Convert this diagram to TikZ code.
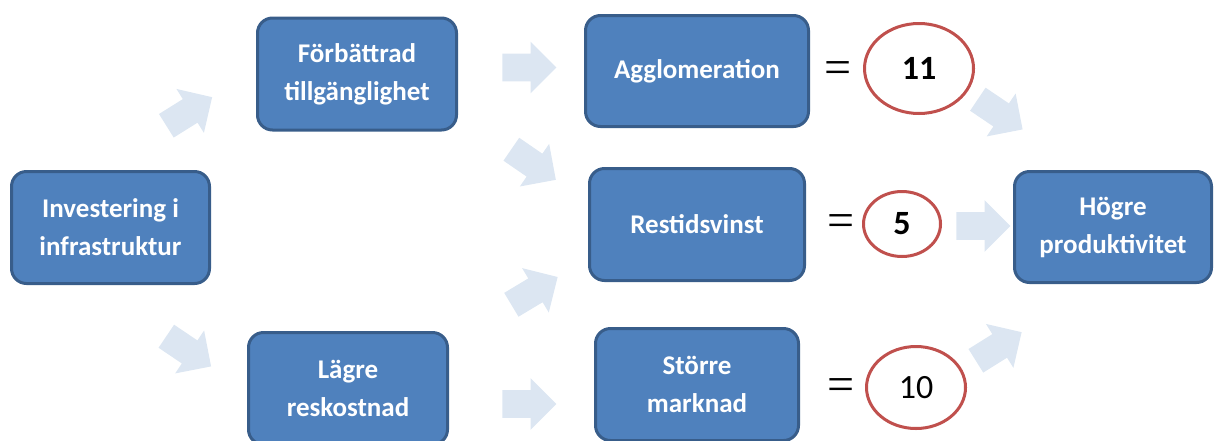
\documentclass[tikz,border=0pt]{standalone}
\usepackage{fontspec}
\setmainfont{Carlito}
\newfontfamily\eqfont{Liberation Serif}
\usepackage{tikz}
\usetikzlibrary{positioning, shapes.geometric, shapes.arrows}
\definecolor{boxblue}{HTML}{4F81BD}
\definecolor{boxline}{HTML}{385D8A}
\definecolor{arrowblue}{HTML}{DCE6F2}
\definecolor{ringred}{HTML}{C0504D}
\begin{document}
\begin{tikzpicture}[x=0.5pt, y=-0.5pt, box/.style={draw=boxline, line width=1.5pt, rounded corners=7.5pt, fill=boxblue, text=white, align=center, minimum width=99.5pt, minimum height=56pt, inner sep=2pt, font=\bfseries\fontsize{13.5}{19}\selectfont}, ring/.style={ellipse, draw=ringred, line width=1.5pt, fill=white, inner sep=0pt, font=\fontsize{17}{17}\selectfont}, eq/.style={inner sep=0pt, font=\eqfont\fontsize{24}{24}\selectfont}, blockarrow/.style={single arrow, anchor=tail, fill=arrowblue, draw=none, inner xsep=0pt, inner ysep=6.75pt, minimum height=27pt, single arrow head extend=6pt}]
      \useasboundingbox (0,0) rectangle (1214,440);

      \node[box, minimum width=99pt] (inv) at (110.5,227.5) {Investering i\\infrastruktur};
      \node[box] (forb) at (357,74) {Förbättrad\\tillgänglighet};
      \node[box] (lagre) at (348,388.5) {Lägre\\reskostnad};
      \node[box, minimum width=111.5pt, minimum height=55.5pt] (aggl) at (697,71) {Agglomeration};
      \node[box, minimum width=107.5pt] (rest) at (697,224.5) {Restidsvinst};
      \node[box, minimum width=101.5pt] (storre) at (697,384.5) {Större\\marknad};
      \node[box, minimum width=98.5pt, minimum height=55.5pt] (hogre) at (1113,227) {Högre\\produktivitet};

      \node[eq] (eq1) at (838,73) {=}; \node[eq] (eq2) at (841,226) {=};
      \node[eq] (eq3) at (841,390) {=};
      \node[ring, minimum width=54.5pt, minimum height=45pt] (r11) at (919,68.5) {\textbf{11}};
      \node[ring, minimum width=38.5pt, minimum height=32.5pt] (r5) at (902,224) {\textbf{5}};
      \node[ring, minimum width=49.5pt, minimum height=41pt] (r10) at (916,387.5) {10};

      \node[blockarrow, rotate=32] (ar1) at (166,126) {};
      \node[blockarrow, rotate=-34] (ar2) at (166,336) {};
      \node[blockarrow] (ar3) at (502,67.5) {};
      \node[blockarrow, rotate=-34.5] (ar4) at (511,149) {};
      \node[blockarrow, rotate=31] (ar5) at (511,305) {};
      \node[blockarrow] (ar6) at (502,404) {};
      \node[blockarrow, rotate=-34] (ar7) at (977.5,99) {};
      \node[blockarrow] (ar8) at (956,226) {};
      \node[blockarrow, rotate=32] (ar9) at (975.5,361) {};
    \end{tikzpicture}
\end{document}
